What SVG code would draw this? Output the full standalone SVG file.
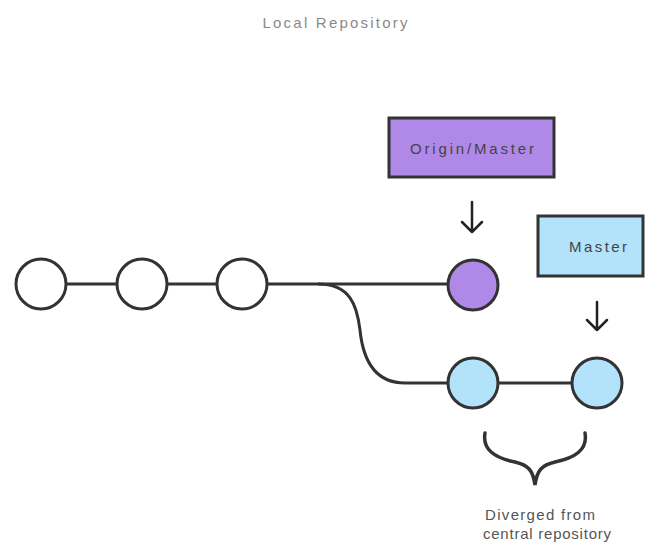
<svg xmlns="http://www.w3.org/2000/svg" width="645" height="547" viewBox="0 0 645 547">
<defs>
<style>
.c{stroke:#333;stroke-width:3;}
.w{fill:#fff;}
.p{fill:#b089e8;}
.b{fill:#b3e3fb;}
.ln{fill:none;stroke:#333;stroke-width:3;}
.ar{fill:none;stroke:#222;stroke-width:2.5;stroke-linecap:round;stroke-linejoin:round;}
.t{font-family:"Liberation Sans",Arial,sans-serif;fill:#555;text-anchor:middle;}
</style>
</defs>
<rect width="645" height="547" fill="#fff"/>
<text class="t" x="335" y="28" font-size="15" textLength="145" lengthAdjust="spacing" style="fill:#8a8a8a">Local Repository</text>
<g id="connectors">
<path class="ln" d="M67 284 H116 M168 284 H216 M268 284 H448"/>
<path class="ln" d="M318 284 C350 284 357 305 360 330 C363 360 375 383 405 383 H448"/>
<path class="ln" d="M499 383 H571"/>
<path class="ar" d="M472 202 V232 M462 222 L472 232 L482 222"/>
<path class="ar" d="M597 302 V330 M587 320 L597 330 L607 320"/>
</g>
<g id="c1"><circle class="c w" cx="41" cy="284" r="25"/></g>
<g id="c2"><circle class="c w" cx="142" cy="284" r="25"/></g>
<g id="c3"><circle class="c w" cx="242" cy="284" r="25"/></g>
<g id="c4"><circle class="c p" cx="473" cy="285" r="25"/></g>
<g id="c5"><circle class="c b" cx="473" cy="383" r="25"/></g>
<g id="c6"><circle class="c b" cx="597" cy="383" r="25"/></g>
<g id="origin-master">
<rect class="c p" x="389" y="118" width="165" height="59"/>
<text class="t" x="472" y="154" font-size="15" textLength="124" lengthAdjust="spacing" style="fill:#444">Origin/Master</text>
</g>
<g id="master">
<rect class="c b" x="538" y="216" width="105" height="60"/>
<text class="t" x="598" y="252" font-size="15" textLength="58" lengthAdjust="spacing" style="fill:#444">Master</text>
</g>
<g id="diverged">
<path d="M485 433 C482 450 495 458 515 462 C528 465 533 470 535 485 C537 470 542 465 555 462 C575 458 588 450 585 433" fill="none" stroke="#333" stroke-width="3.5" stroke-linecap="round"/>
<text class="t" x="540" y="520" font-size="15" textLength="110" lengthAdjust="spacing" style="fill:#555">Diverged from</text>
<text class="t" x="547" y="539" font-size="15" textLength="128" lengthAdjust="spacing" style="fill:#555">central repository</text>
</g>
</svg>
